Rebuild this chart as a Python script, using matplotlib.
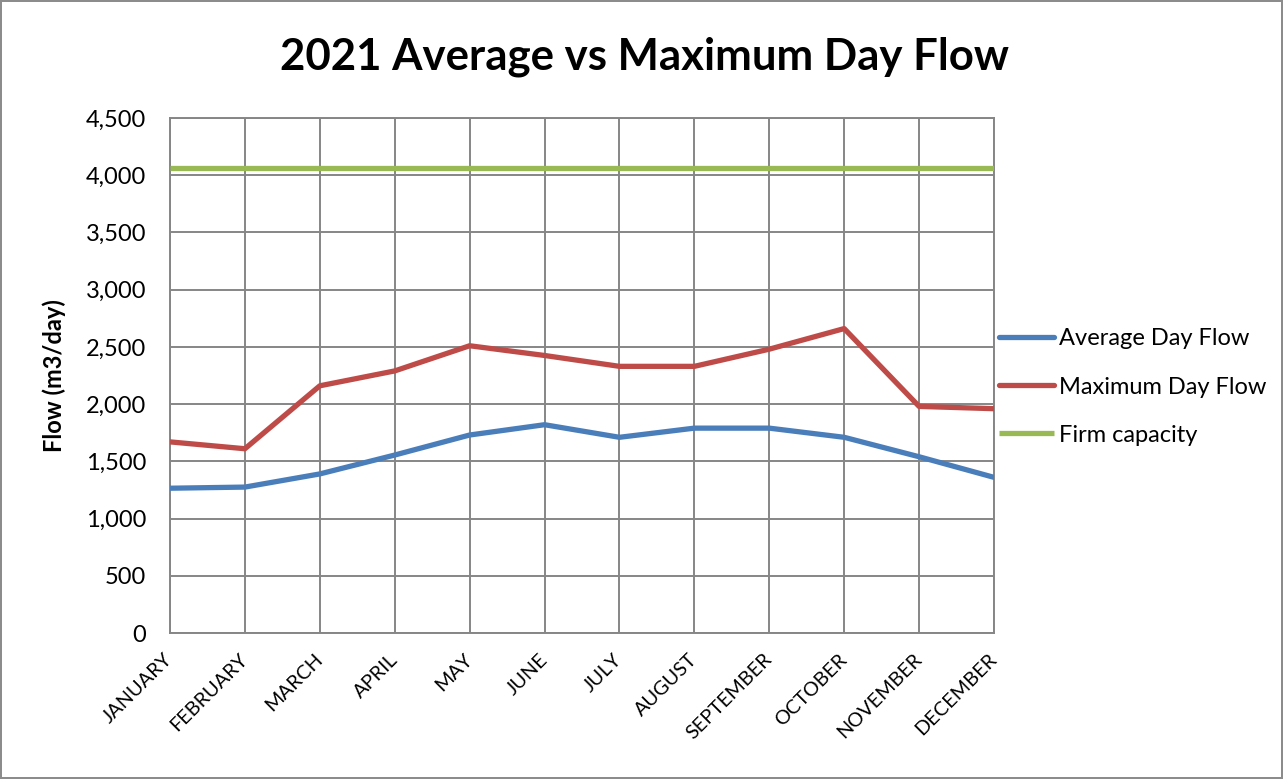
import matplotlib
matplotlib.use("Agg")
import matplotlib.pyplot as plt
from matplotlib.ticker import FuncFormatter, MultipleLocator

months = ["JANUARY", "FEBRUARY", "MARCH", "APRIL", "MAY", "JUNE", "JULY",
          "AUGUST", "SEPTEMBER", "OCTOBER", "NOVEMBER", "DECEMBER"]
average_flow = [1265, 1275, 1390, 1555, 1730, 1820, 1710, 1790, 1790, 1710, 1540, 1360]
maximum_flow = [1670, 1610, 2160, 2290, 2510, 2425, 2330, 2330, 2480, 2660, 1980, 1960]
firm_capacity = [4060] * 12

plt.rcParams['font.family'] = ['Lato', 'DejaVu Sans']

W, H = 1283, 779
fig = plt.figure(figsize=(W / 100, H / 100), dpi=100)
fig.patch.set_facecolor('white')
fig.patch.set_edgecolor('#8c8c8c')
fig.patch.set_linewidth(1.5)

ax = fig.add_axes([170 / W, 1 - 633 / H, (994 - 170) / W, (633 - 118) / H])

x = list(range(len(months)))
ax.plot(x, average_flow, color='#4A7EBB', lw=3.8, label='Average Day Flow', solid_capstyle='round', zorder=3)
ax.plot(x, maximum_flow, color='#BE4B48', lw=3.8, label='Maximum Day Flow', solid_capstyle='round', zorder=3)
ax.plot(x, firm_capacity, color='#98B954', lw=3.8, label='Firm capacity', solid_capstyle='butt', zorder=3)

ax.set_xlim(0, 11)
ax.set_ylim(0, 4500)
ax.yaxis.set_major_locator(MultipleLocator(500))
ax.yaxis.set_major_formatter(FuncFormatter(lambda v, p: f"{int(v):,}"))
ax.set_xticks(x)
ax.set_xticklabels(months, rotation=45, ha='right', va='center', rotation_mode='anchor', fontsize=14.3)
ax.tick_params(axis='x', length=0, pad=17)
ax.tick_params(axis='y', length=0, pad=17, labelsize=17)

ax.grid(True, color='#868686', lw=1.4)
ax.set_axisbelow(True)
for s in ax.spines.values():
    s.set_color('#868686')
    s.set_linewidth(1.4)

ax.set_ylabel('Flow (m3/day)', fontsize=17, fontweight='bold', labelpad=14)

fig.text(645 / W, 1 - 57 / H, '2021 Average vs Maximum Day Flow', ha='center', va='center',
         fontsize=31.5, fontweight='bold')

leg = ax.legend(loc='center left', bbox_to_anchor=(999 / W, 1 - 387 / H), bbox_transform=fig.transFigure,
                frameon=False, fontsize=17, handlelength=2.35, handletextpad=0.2,
                labelspacing=1.15, borderaxespad=0, borderpad=0)

fig.savefig('out.png', dpi=100)
